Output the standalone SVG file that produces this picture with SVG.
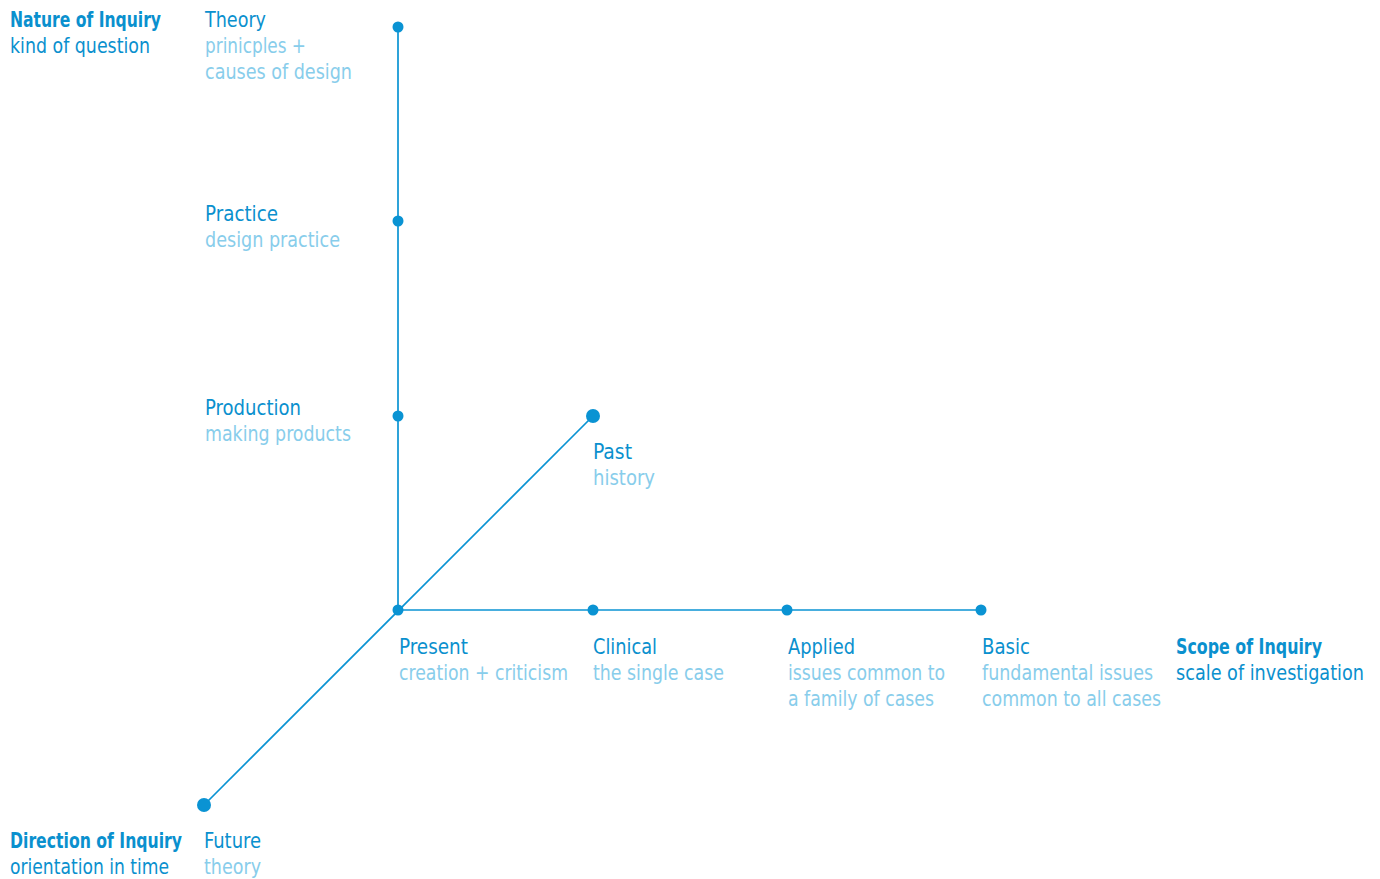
<svg xmlns="http://www.w3.org/2000/svg" width="1380" height="879" viewBox="0 0 1380 879">
<style>
text{font-family:"Liberation Sans Narrow","DejaVu Sans Condensed","Liberation Sans",sans-serif;font-size:21px}
.h{fill:#0a90ce}
.s{fill:#88cdeb}
.b{font-weight:bold;fill:#0a90ce}
.ax{stroke:#0a93d3;stroke-width:1.7;fill:none}
.d{fill:#0a93d3}
</style>
<rect width="1380" height="879" fill="#fff"/>
<g id="connectors">
<line class="ax" x1="398" y1="27" x2="398" y2="610"/>
<line class="ax" x1="398" y1="610" x2="981" y2="610"/>
<line class="ax" x1="204" y1="805" x2="593" y2="416"/>
</g>
<g id="axis-labels">
<g id="nature"><text class="b" x="10" y="27" textLength="151" lengthAdjust="spacingAndGlyphs">Nature of Inquiry</text><text class="h" x="10" y="53" textLength="140" lengthAdjust="spacingAndGlyphs">kind of question</text></g>
<g id="scope"><text class="b" x="1176" y="654" textLength="146" lengthAdjust="spacingAndGlyphs">Scope of Inquiry</text><text class="h" x="1176" y="680" textLength="188" lengthAdjust="spacingAndGlyphs">scale of investigation</text></g>
<g id="direction"><text class="b" x="10" y="848" textLength="172" lengthAdjust="spacingAndGlyphs">Direction of Inquiry</text><text class="h" x="10" y="874" textLength="159" lengthAdjust="spacingAndGlyphs">orientation in time</text></g>
</g>
<g id="theory"><circle class="d" cx="398" cy="27" r="5.5"/><text class="h" x="205" y="27" textLength="61" lengthAdjust="spacingAndGlyphs">Theory</text><text class="s" x="205" y="53" textLength="101" lengthAdjust="spacingAndGlyphs">prinicples +</text><text class="s" x="205" y="79" textLength="147" lengthAdjust="spacingAndGlyphs">causes of design</text></g>
<g id="practice"><circle class="d" cx="398" cy="221" r="5.5"/><text class="h" x="205" y="221" textLength="73" lengthAdjust="spacingAndGlyphs">Practice</text><text class="s" x="205" y="247" textLength="135" lengthAdjust="spacingAndGlyphs">design practice</text></g>
<g id="production"><circle class="d" cx="398" cy="416" r="5.5"/><text class="h" x="205" y="415" textLength="96" lengthAdjust="spacingAndGlyphs">Production</text><text class="s" x="205" y="441" textLength="146" lengthAdjust="spacingAndGlyphs">making products</text></g>
<g id="past"><circle class="d" cx="593" cy="416" r="7"/><text class="h" x="593" y="459" textLength="39" lengthAdjust="spacingAndGlyphs">Past</text><text class="s" x="593" y="485" textLength="62" lengthAdjust="spacingAndGlyphs">history</text></g>
<g id="present"><circle class="d" cx="398" cy="610" r="5.5"/><text class="h" x="399" y="654" textLength="69" lengthAdjust="spacingAndGlyphs">Present</text><text class="s" x="399" y="680" textLength="169" lengthAdjust="spacingAndGlyphs">creation + criticism</text></g>
<g id="clinical"><circle class="d" cx="593" cy="610" r="5.5"/><text class="h" x="593" y="654" textLength="64" lengthAdjust="spacingAndGlyphs">Clinical</text><text class="s" x="593" y="680" textLength="131" lengthAdjust="spacingAndGlyphs">the single case</text></g>
<g id="applied"><circle class="d" cx="787" cy="610" r="5.5"/><text class="h" x="788" y="654" textLength="67" lengthAdjust="spacingAndGlyphs">Applied</text><text class="s" x="788" y="680" textLength="157" lengthAdjust="spacingAndGlyphs">issues common to</text><text class="s" x="788" y="706" textLength="146" lengthAdjust="spacingAndGlyphs">a family of cases</text></g>
<g id="basic"><circle class="d" cx="981" cy="610" r="5.5"/><text class="h" x="982" y="654" textLength="48" lengthAdjust="spacingAndGlyphs">Basic</text><text class="s" x="982" y="680" textLength="171" lengthAdjust="spacingAndGlyphs">fundamental issues</text><text class="s" x="982" y="706" textLength="179" lengthAdjust="spacingAndGlyphs">common to all cases</text></g>
<g id="future"><circle class="d" cx="204" cy="805" r="7"/><text class="h" x="204" y="848" textLength="57" lengthAdjust="spacingAndGlyphs">Future</text><text class="s" x="204" y="874" textLength="57" lengthAdjust="spacingAndGlyphs">theory</text></g>
</svg>
